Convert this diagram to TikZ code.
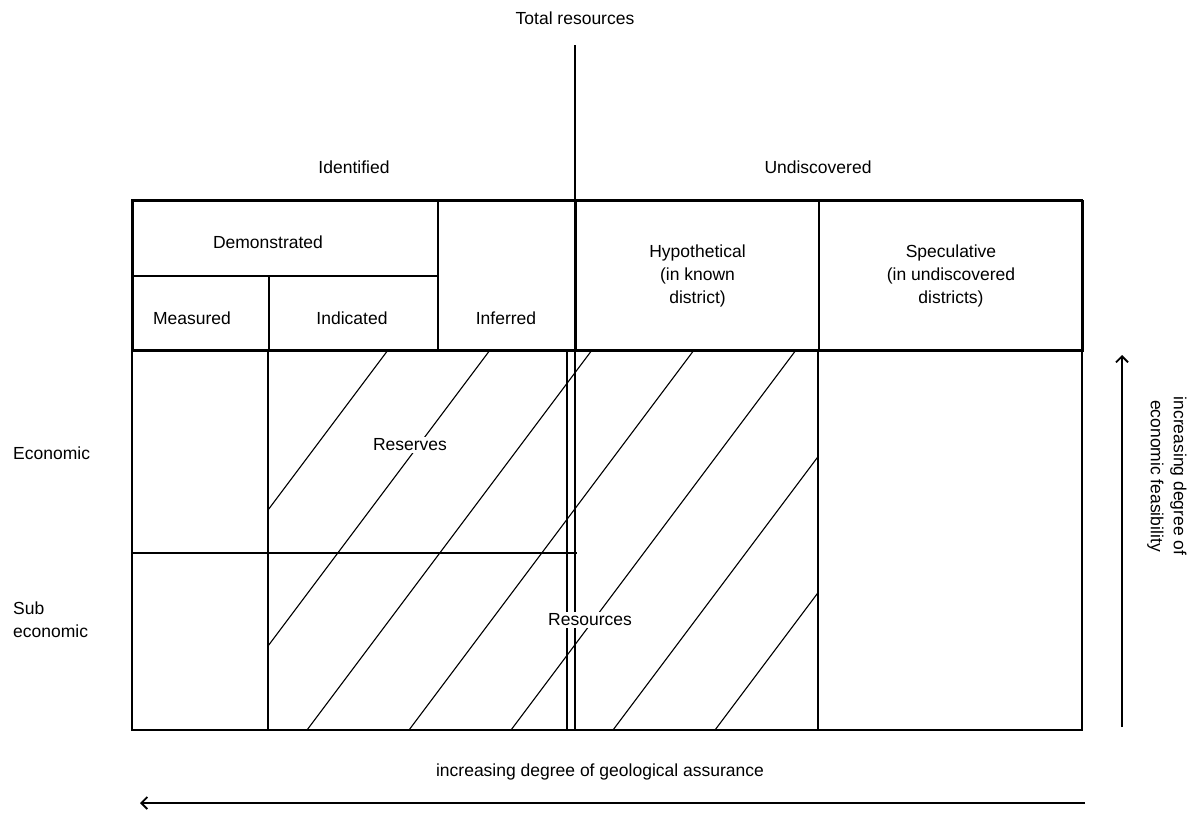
\documentclass[tikz,border=0pt]{standalone}
\usepackage{fontspec}
\setmainfont{Liberation Sans}
\usetikzlibrary{arrows.meta, positioning}

\begin{document}
\begin{tikzpicture}[
    x=1pt, y=-1pt,
    every node/.style={
        font=\fontsize{17.5}{23}\selectfont,
        align=center,
        inner sep=1pt
    },
    cell/.style={draw, line width=2pt, anchor=north west},
    frame/.style={line width=2.6pt},
    rule/.style={line width=2pt},
    thinrule/.style={line width=1.6pt},
    hatch/.style={line width=1.1pt},
    tag/.style={fill=white, inner sep=2pt},
    arrow/.style={-{Straight Barb[length=6pt,width=12pt]}, line width=1.8pt}
]
\useasboundingbox (0,0) rectangle (1192,814);

% ------------------------
% Header cells
% ------------------------
\node[cell, minimum width=305pt, minimum height=75pt] (demo) at (132,200) {};
\node[cell, minimum width=136pt, minimum height=75pt] (meas) at (132,275) {};
\node[cell, minimum width=169pt, minimum height=75pt] (indi) at (268,275) {};
\node[cell, minimum width=138pt, minimum height=150pt] (infe) at (437,200) {};
\node[cell, minimum width=243pt, minimum height=150pt] (hypo) at (575,200) {};
\node[cell, minimum width=264pt, minimum height=150pt] (spec) at (818,200) {};

% ------------------------
% Outer frame and grid lines
% ------------------------
\draw[frame] (132,200) rectangle (1082,730);
\draw[rule] (132,350) -- (1082,350);
\draw[rule] (indi.south west) -- (268,730);
\draw[rule] (spec.south west) -- (818,730);
\draw[thinrule] (567,350) -- (567,730);
\draw[rule] (132,553) -- (577,553);

% ------------------------
% Total resources divider
% ------------------------
\coordinate (top) at (575,45);
\coordinate (bot) at (575,730);
\draw[frame] (top) -- (bot);

% ------------------------
% Hatching
% ------------------------
\begin{scope}
\clip (268,350) rectangle (818,730);
\foreach \xb in {103,205,...,715}
    \draw[hatch] (\xb,730) -- ++(285,-380);
\end{scope}

% ------------------------
% Texts
% ------------------------
\node (total) at (575,18) {Total resources};
\node (ident) at (354,167) {Identified};
\node (undis) at (818,167) {Undiscovered};

\node (tdemo) at (268,242) {Demonstrated};
\node (tmeas) at (192,318) {Measured};
\node (tindi) at (352,318) {Indicated};
\node (tinfe) at (506,318) {Inferred};
\node (thypo) at (hypo.center) {Hypothetical\\(in known\\district)};
\node (tspec) at (spec.center) {Speculative\\(in undiscovered\\districts)};

\node[anchor=west] (econ) at (12,453) {Economic};
\node[anchor=west, align=left] (subecon) at (12,620) {Sub\\economic};

\node[tag] (reserves) at (410,445) {Reserves};
\node[tag] (resources) at (590,620) {Resources};

% ------------------------
% Axes
% ------------------------
\coordinate (vstart) at (1122,727);
\coordinate (vend) at (1122,355);
\draw[arrow] (vstart) -- (vend);
\node[rotate=-90] (feas) at (1167,476) {increasing degree of\\economic feasibility};

\coordinate (hstart) at (1085,803);
\coordinate (hend) at (140,803);
\draw[arrow] (hstart) -- (hend);
\node (geol) at (600,772) {increasing degree of geological assurance};

\end{tikzpicture}
\end{document}
